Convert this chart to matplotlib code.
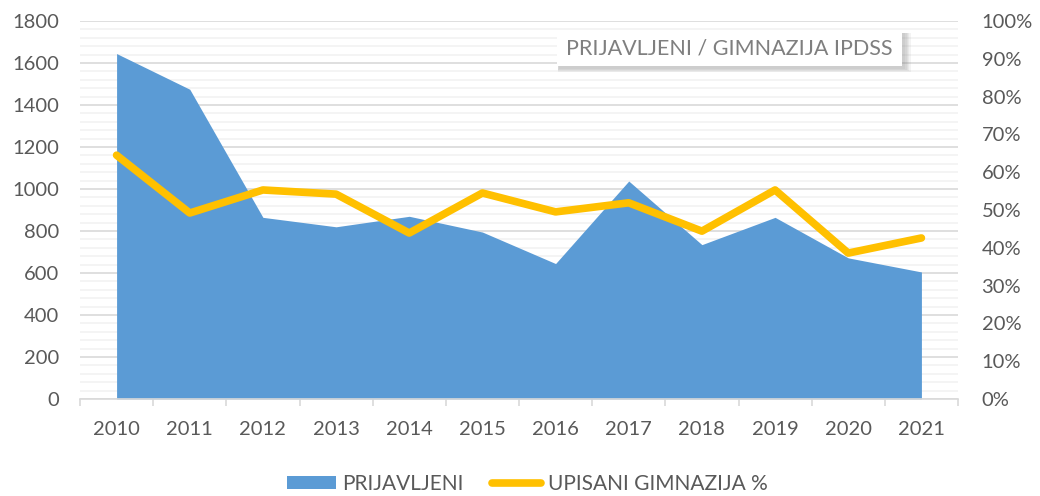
import matplotlib
matplotlib.use("Agg")
import matplotlib.pyplot as plt
from matplotlib.ticker import MultipleLocator, PercentFormatter
from matplotlib.patches import Patch, Rectangle
from matplotlib.lines import Line2D

plt.rcParams['font.family'] = ['Lato', 'DejaVu Sans']

years = ['2010', '2011', '2012', '2013', '2014', '2015',
         '2016', '2017', '2018', '2019', '2020', '2021']
prijavljeni = [1645, 1475, 865, 820, 870, 795, 645, 1038, 735, 865, 672, 605]
upisani_pct = [64.5, 49.2, 55.3, 54.2, 43.9, 54.5, 49.5, 51.9, 44.4, 55.3, 38.6, 42.6]

blue = '#5B9BD5'
gold = '#FFC000'
txt = '#595959'
W, H = 1040, 496

fig = plt.figure(figsize=(10.4, 4.96), dpi=100)
ax = fig.add_axes([80/W, 1-399/H, 878/W, 378/H])
ax2 = ax.twinx()

x = list(range(len(years)))
ax.fill_between(x, prijavljeni, 0, color=blue, linewidth=0, zorder=3)
ax.set_ylim(0, 1800)
ax.set_xlim(-0.5, len(years) - 0.5)
ax.yaxis.set_major_locator(MultipleLocator(200))
ax.yaxis.set_minor_locator(MultipleLocator(40))
ax.grid(axis='y', which='major', color='#D9D9D9', linewidth=1.2, zorder=0)
ax.grid(axis='y', which='minor', color='#F2F2F2', linewidth=1.2, zorder=0)
ax.set_axisbelow(True)

ax2.plot(x, upisani_pct, color=gold, linewidth=5.5, solid_capstyle='round',
         solid_joinstyle='round', zorder=4)
ax2.set_ylim(0, 100)
ax2.yaxis.set_major_locator(MultipleLocator(10))
ax2.yaxis.set_major_formatter(PercentFormatter(decimals=0))

ax.set_xticks(x)
ax.set_xticklabels(years)
ax.set_xticks([i - 0.5 for i in range(len(years) + 1)], minor=True)
ax.tick_params(axis='x', which='major', length=0, pad=16, labelsize=14.5, colors=txt)
ax.tick_params(axis='x', which='minor', length=5, color='#D9D9D9', width=1.2)
ax.tick_params(axis='y', which='both', length=0, labelsize=14.5, colors=txt, pad=15)
ax2.tick_params(axis='y', which='both', length=0, labelsize=14.5, colors=txt, pad=17)
ax.yaxis.set_tick_params(which='minor', length=0)

for a in (ax, ax2):
    for s in a.spines.values():
        s.set_visible(False)
ax.spines['bottom'].set_visible(True)
ax.spines['bottom'].set_color('#D9D9D9')
ax.spines['bottom'].set_linewidth(1.2)
ax.spines['bottom'].set_zorder(5)

# title box with soft shadow
bx0, bx1, by0, by1 = 557, 902, 31, 66
for k in range(5, 0, -1):
    fig.patches.append(Rectangle(((bx0 + 2 - k*0.3)/W, 1-(by1 + 2 + k*0.8)/H),
                                 (bx1 - bx0 + k*1.6)/W, (by1 - by0 + k*0.8)/H,
                                 transform=fig.transFigure, facecolor='#808080',
                                 edgecolor='none', alpha=0.09, zorder=8))
fig.patches.append(Rectangle((bx0/W, 1-by1/H), (bx1-bx0)/W, (by1-by0)/H,
                             transform=fig.transFigure, facecolor='white',
                             edgecolor='none', zorder=9))
fig.text((bx0+bx1)/2/W, 1-(by0+by1)/2/H, 'PRIJAVLJENI / GIMNAZIJA IPDSS',
         ha='center', va='center', fontsize=15.5, color='#7F7F7F', zorder=10)

handles = [Patch(facecolor=blue, edgecolor='none'),
           Line2D([0], [0], color=gold, linewidth=5.5, solid_capstyle='round')]
fig.legend(handles, ['PRIJAVLJENI', 'UPISANI GIMNAZIJA %'], loc='center',
           bbox_to_anchor=(527/W, 1-484/H), ncol=2, frameon=False,
           fontsize=15, labelcolor=txt, handlelength=2.35, handleheight=0.6,
           handletextpad=0.3, columnspacing=1.4)

fig.savefig('out.png', dpi=100)
